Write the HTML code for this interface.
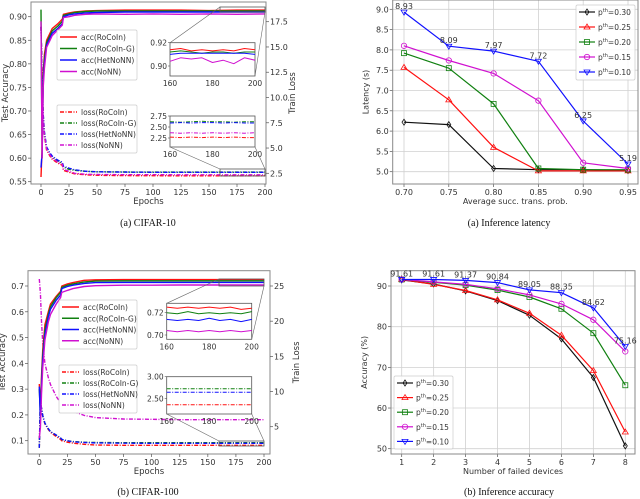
<!DOCTYPE html>
<html><head><meta charset="utf-8"><style>
html,body{margin:0;padding:0;background:#fff;width:640px;height:499px;overflow:hidden}
svg{display:block}
text{font-family:"DejaVu Sans","Liberation Sans",sans-serif;fill:#333}
.cap{font-family:"Liberation Serif",serif;font-size:10px;fill:#111}
</style></head><body>
<svg id="fig" width="640" height="499" viewBox="0 0 640 499"></svg>
<script>
// ---------- data ----------
const epochs = [0,1,2,3,5,8,10,15,19,20,25,30,40,50,75,100,125,150,175,200];
const c10AccRoCoIn  = [0.56,0.62,0.78,0.82,0.85,0.865,0.875,0.885,0.895,0.905,0.908,0.910,0.912,0.913,0.914,0.914,0.914,0.913,0.914,0.914];
const c10AccRoCoInG = [0.915,0.60,0.77,0.81,0.845,0.86,0.87,0.88,0.89,0.903,0.906,0.909,0.911,0.912,0.912,0.912,0.912,0.912,0.912,0.912];
const c10AccHet     = [0.58,0.61,0.76,0.80,0.84,0.855,0.865,0.875,0.885,0.90,0.904,0.906,0.908,0.909,0.910,0.910,0.910,0.910,0.910,0.910];
const c10AccNoNN    = [0.89,0.60,0.75,0.79,0.835,0.85,0.86,0.872,0.882,0.898,0.900,0.903,0.905,0.906,0.905,0.906,0.905,0.906,0.905,0.906];
const c10LossRoCoIn  = [17,12,8,6.2,4.8,4.2,3.9,3.5,3.3,2.8,2.6,2.45,2.35,2.3,2.27,2.26,2.25,2.25,2.25,2.25];
const c10LossRoCoInG = [17,12,8.3,6.5,5,4.4,4.1,3.7,3.5,3.1,2.9,2.8,2.7,2.65,2.63,2.62,2.62,2.62,2.62,2.62];
const c10LossHet     = [17,12,8.4,6.6,5.1,4.5,4.2,3.8,3.6,3.2,3.0,2.85,2.7,2.65,2.62,2.6,2.6,2.6,2.6,2.6];
const c10LossNoNN    = [17,11.5,8,6.3,4.9,4.3,4.0,3.6,3.4,2.9,2.7,2.5,2.4,2.38,2.36,2.36,2.35,2.35,2.35,2.35];
const c100AccRoCoIn  = [0.32,0.22,0.35,0.45,0.55,0.60,0.63,0.66,0.68,0.70,0.708,0.713,0.722,0.724,0.725,0.725,0.725,0.725,0.725,0.725];
const c100AccRoCoInG = [0.30,0.20,0.33,0.43,0.53,0.59,0.62,0.655,0.675,0.695,0.703,0.708,0.716,0.719,0.720,0.720,0.720,0.720,0.720,0.720];
const c100AccHet     = [0.31,0.18,0.31,0.41,0.51,0.58,0.61,0.645,0.665,0.69,0.698,0.703,0.710,0.713,0.714,0.714,0.714,0.714,0.714,0.714];
const c100AccNoNN    = [0.11,0.15,0.28,0.38,0.49,0.56,0.59,0.63,0.655,0.675,0.683,0.690,0.698,0.701,0.703,0.703,0.704,0.704,0.704,0.704];
const c100LossRoCoIn  = [2,9,7.5,6.5,5.4,4.6,4.2,3.6,3.2,3.0,2.8,2.65,2.5,2.4,2.35,2.35,2.35,2.35,2.35,2.35];
const c100LossRoCoInG = [2,9,7.6,6.6,5.5,4.7,4.3,3.8,3.4,3.2,3.0,2.9,2.8,2.75,2.72,2.72,2.72,2.72,2.72,2.72];
const c100LossHet     = [2,9,7.6,6.6,5.5,4.7,4.3,3.8,3.4,3.2,3.0,2.85,2.75,2.7,2.65,2.64,2.64,2.64,2.64,2.64];
const c100LossNoNN    = [26,24,20,17,14,12,11,9.3,8.4,8.0,7.5,7.2,6.6,6.3,6.1,6.05,6.0,6.0,6.0,6.0];
const insetEpochs = [160,165,170,175,180,185,190,195,200];
const in10AccRoCoIn = [0.914,0.915,0.913,0.914,0.913,0.914,0.913,0.915,0.914];
const in10AccG      = [0.912,0.913,0.912,0.911,0.912,0.912,0.911,0.912,0.912];
const in10AccHet    = [0.910,0.911,0.911,0.911,0.911,0.911,0.911,0.911,0.910];
const in10AccNoNN   = [0.904,0.907,0.906,0.907,0.903,0.905,0.902,0.907,0.905];
const in10LossG     = [2.62,2.61,2.62,2.63,2.62,2.62,2.61,2.62,2.62];
const in10LossHet   = [2.59,2.60,2.59,2.60,2.60,2.59,2.60,2.59,2.59];
const in10LossNoNN  = [2.37,2.36,2.37,2.36,2.37,2.36,2.37,2.36,2.37];
const in10LossRo    = [2.27,2.26,2.27,2.26,2.27,2.26,2.27,2.26,2.26];
const in100AccRoCoIn= [0.725,0.724,0.725,0.724,0.725,0.724,0.725,0.723,0.724];
const in100AccG     = [0.720,0.719,0.721,0.719,0.720,0.719,0.720,0.719,0.721];
const in100AccHet   = [0.714,0.713,0.714,0.713,0.715,0.713,0.714,0.712,0.714];
const in100AccNoNN  = [0.704,0.703,0.704,0.703,0.704,0.703,0.704,0.703,0.704];
const in100LossG    = [2.72,2.72,2.72,2.72,2.72,2.72,2.72,2.72,2.72];
const in100LossHet  = [2.64,2.64,2.64,2.64,2.64,2.64,2.64,2.64,2.64];
const in100LossRo   = [2.35,2.35,2.35,2.35,2.35,2.35,2.35,2.35,2.35];
const transProb = [0.70,0.75,0.80,0.85,0.90,0.95];
const lat030 = [6.22,6.16,5.08,5.05,5.05,5.03];
const lat025 = [7.57,6.77,5.60,5.02,5.02,5.02];
const lat020 = [7.92,7.55,6.67,5.08,5.05,5.05];
const lat015 = [8.10,7.74,7.42,6.75,5.22,5.08];
const lat010 = [8.93,8.09,7.97,7.72,6.25,5.19];
const failed = [1,2,3,4,5,6,7,8];
const acc030 = [91.5,90.5,88.8,86.4,82.8,77.0,67.5,50.7];
const acc025 = [91.6,90.4,88.9,86.6,83.3,77.9,69.2,54.1];
const acc020 = [91.6,90.9,90.2,89.0,87.3,84.4,78.4,65.6];
const acc015 = [91.6,91.0,90.4,89.3,87.8,85.6,81.7,73.9];
const acc010 = [91.61,91.61,91.37,90.84,89.05,88.35,84.62,75.16];
const latLabels = ['8.93','8.09','7.97','7.72','6.25','5.19'];
const accLabels = ['91.61','91.61','91.37','90.84','89.05','88.35','84.62','75.16'];

// ---------- helpers ----------
const NS='http://www.w3.org/2000/svg';
const svg=document.getElementById('fig');
function mk(tag,attrs,parent){const e=document.createElementNS(NS,tag);for(const k in attrs)e.setAttribute(k,attrs[k]);(parent||svg).appendChild(e);return e;}
function txt(x,y,s,size,anchor,parent,extra){const t=mk('text',Object.assign({x:x,y:y,'font-size':size,'text-anchor':anchor||'middle'},extra||{}),parent);t.textContent=s;return t;}
function poly(xs,ys,fx,fy,stroke,w,dash,parent){let d='';for(let i=0;i<xs.length;i++){d+=(i?'L':'M')+fx(xs[i]).toFixed(1)+','+fy(ys[i]).toFixed(1);}return mk('path',{d:d,fill:'none',stroke:stroke,'stroke-width':w,'stroke-dasharray':dash||'none','stroke-linejoin':'round'},parent);}
const C={red:'#ff1010',green:'#108010',blue:'#1010ff',mag:'#d010d0',black:'#111'};
const DD='4,1.5,1,1.5';

// ---------- training chart builder ----------
function trainChart(cfg){
  const g=mk('g',{});
  
  
  const {x0,x1,y0,y1,fx,fyL,fyR}=cfg;
  const frame=mk('rect',{x:x0,y:y0,width:x1-x0,height:y1-y0,fill:'none',stroke:'#888','stroke-width':1},g);
  
  
  for(const v of [0,25,50,75,100,125,150,175,200]){mk('line',{x1:fx(v),x2:fx(v),y1:y1,y2:y1+3,stroke:'#555','stroke-width':0.7},g);const t=txt(fx(v),y1+11,String(v),8,'middle',g);}
  for(const v of cfg.lTicks){mk('line',{x1:x0-3,x2:x0,y1:fyL(v),y2:fyL(v),stroke:'#555','stroke-width':0.7},g);const t=txt(x0-4,fyL(v)+3,v.toFixed(cfg.lDec),8,'end',g);}
  for(const v of cfg.rTicks){mk('line',{x1:x1,x2:x1+3,y1:fyR(v),y2:fyR(v),stroke:'#555','stroke-width':0.7},g);const t=txt(x1+4,fyR(v)+3,v.toFixed(cfg.rDec),8,'start',g);}
  const xt=txt((x0+x1)/2,y1+20,'Epochs',8.5,'middle',g);
  const yt=txt(0,0,'Test Accuracy',8.5,'middle',g,{transform:`translate(${x0-23},${(y0+y1)/2}) rotate(-90)`});
  const y2=txt(0,0,'Train Loss',8.5,'middle',g,{transform:`translate(${x1+29},${(y0+y1)/2}) rotate(-90)`});
  const cols=[C.red,C.green,C.blue,C.mag];
  cfg.loss.forEach((s,i)=>{const p=poly(epochs,s,fx,fyR,cols[i],1.4,DD,g);});
  cfg.acc.forEach((s,i)=>{const p=poly(epochs,s,fx,fyL,cols[i],1.4,null,g);});
  const names=['RoCoIn','RoCoIn-G','HetNoNN','NoNN'];
  [['acc',cfg.accLeg,null],['loss',cfg.lossLeg,DD]].forEach(([pre,b,dash])=>{
    const lg=mk('g',{},g);
    mk('rect',{x:b[0],y:b[1],width:b[2],height:b[3],fill:'#fff',stroke:'#ccc','stroke-width':0.7,rx:1.5},lg);
    names.forEach((n,i)=>{const yy=b[1]+7+i*(b[3]-4)/4;mk('line',{x1:b[0]+3,x2:b[0]+20,y1:yy,y2:yy,stroke:cols[i],'stroke-width':1.5,'stroke-dasharray':dash||'none'},lg);const t=txt(b[0]+24,yy+3,pre+'('+n+')',7.5,'start',lg);});
  });
  cfg.insets.forEach(ins=>{
    const ig=mk('g',{},g);
    mk('rect',{x:ins.box[0],y:ins.box[1],width:ins.box[2]-ins.box[0],height:ins.box[3]-ins.box[1],fill:'#fff',stroke:'#555','stroke-width':0.8},ig);
    const ix=e=>ins.box[0]+(e-160)/40*(ins.box[2]-ins.box[0]);
    const iy=v=>ins.yA+(ins.vA-v)*(ins.yB-ins.yA)/(ins.vA-ins.vB);
    ins.series.forEach(s=>{const p=poly(insetEpochs,s[0],ix,iy,s[1],1,s[2]?DD:null,ig);});
    ins.ticks.forEach(v=>{mk('line',{x1:ins.box[0]-2,x2:ins.box[0],y1:iy(v),y2:iy(v),stroke:'#555','stroke-width':0.6},ig);txt(ins.box[0]-3,iy(v)+3,v.toFixed(2),7.5,'end',ig);});
    [160,180,200].forEach(v=>txt(ix(v),ins.box[3]+10,String(v),7.5,'middle',ig));
    const sr=ins.src;
    mk('rect',{x:sr[0],y:sr[1],width:sr[2]-sr[0],height:sr[3]-sr[1],fill:'none',stroke:'#555','stroke-width':0.8},ig);
    mk('line',{x1:ins.c[0][0],y1:ins.c[0][1],x2:ins.c[0][2],y2:ins.c[0][3],stroke:'#666','stroke-width':0.6},ig);
    mk('line',{x1:ins.c[1][0],y1:ins.c[1][1],x2:ins.c[1][2],y2:ins.c[1][3],stroke:'#666','stroke-width':0.6},ig);
  });
  const cap=txt(cfg.capX,cfg.capY,cfg.cap,10,'middle',svg,{class:'cap'});
  
  
}

const fxA=e=>41+e*224/200, fyLA=v=>16.7+(0.90-v)*165/0.35, fyRA=v=>21.7+(17.5-v)*151.6/15;
trainChart({name:'cifar10-training-chart',x0:31,x1:266,y0:2,y1:184,fx:fxA,fyL:fyLA,fyR:fyRA,
  lTicks:[0.55,0.60,0.65,0.70,0.75,0.80,0.85,0.90],lDec:2,rTicks:[2.5,5,7.5,10,12.5,15,17.5],rDec:1,
  acc:[c10AccRoCoIn,c10AccRoCoInG,c10AccHet,c10AccNoNN],loss:[c10LossRoCoIn,c10LossRoCoInG,c10LossHet,c10LossNoNN],
  accLeg:[57,30,80,50],lossLeg:[57,105,80,48],
  insets:[
    {box:[170,42.7,255,76],yA:42.7,vA:0.92,yB:66,vB:0.90,ticks:[0.90,0.92],src:[220,7,265,12],c:[[170,42.7,220,7],[255,76,265,12]],
     series:[[in10AccRoCoIn,C.red],[in10AccG,C.green],[in10AccHet,C.blue],[in10AccNoNN,C.mag]]},
    {box:[170,116,255,147],yA:116,vA:2.75,yB:138,vB:2.25,ticks:[2.25,2.50,2.75],src:[220,169,265,176],c:[[170,147,220,169],[255,147,265,169]],
     series:[[in10LossG,C.green,1],[in10LossHet,C.blue,1],[in10LossNoNN,C.mag,1],[in10LossRo,C.red,1]]}
  ],cap:'(a)  CIFAR-10',capX:148,capY:226});

const fxB=e=>39.3+e*224.7/200, fyLB=v=>286+(0.7-v)*154.7/0.6, fyRB=v=>286+(25-v)*140.7/20;
trainChart({name:'cifar100-training-chart',x0:28,x1:270,y0:270.7,y1:454,fx:fxB,fyL:fyLB,fyR:fyRB,
  lTicks:[0.1,0.2,0.3,0.4,0.5,0.6,0.7],lDec:1,rTicks:[5,10,15,20,25],rDec:0,
  acc:[c100AccRoCoIn,c100AccRoCoInG,c100AccHet,c100AccNoNN],loss:[c100LossRoCoIn,c100LossRoCoInG,c100LossHet,c100LossNoNN],
  accLeg:[59,300,78,49],lossLeg:[59,365,78,48],
  insets:[
    {box:[166.7,303.3,251.7,339.3],yA:312.7,vA:0.72,yB:335,vB:0.70,ticks:[0.70,0.72],src:[219,279,264,286],c:[[166.7,303.3,219,279],[251.7,339.3,264,286]],
     series:[[in100AccRoCoIn,C.red],[in100AccG,C.green],[in100AccHet,C.blue],[in100AccNoNN,C.mag]]},
    {box:[166.7,376.7,251.7,414],yA:376.7,vA:3.0,yB:398.3,vB:2.5,ticks:[2.5,3.0],src:[219,441,264,446],c:[[166.7,414,219,441],[251.7,414,264,441]],
     series:[[in100LossG,C.green,1],[in100LossHet,C.blue,1],[in100LossRo,C.red,1]]}
  ],cap:'(b)  CIFAR-100',capX:148,capY:495});

function markChart(cfg){
  const g=mk('g',{});
  
  
  const {x0,x1,y0,y1,fx,fy}=cfg;
  cfg.xs.forEach(v=>{mk('line',{x1:fx(v),x2:fx(v),y1:y0,y2:y1,stroke:'#d0d0d0','stroke-width':0.8},g);mk('line',{x1:fx(v),x2:fx(v),y1:y1,y2:y1+3,stroke:'#555','stroke-width':0.7},g);const t=txt(fx(v),y1+11,cfg.xFmt(v),8,'middle',g);});
  cfg.yTicks.forEach(v=>{mk('line',{x1:x0,x2:x1,y1:fy(v),y2:fy(v),stroke:'#d0d0d0','stroke-width':0.8},g);mk('line',{x1:x0-3,x2:x0,y1:fy(v),y2:fy(v),stroke:'#555','stroke-width':0.7},g);const t=txt(x0-4,fy(v)+3,cfg.yFmt(v),8,'end',g);});
  const fr=mk('rect',{x:x0,y:y0,width:x1-x0,height:y1-y0,fill:'none',stroke:'#888','stroke-width':1},g);
  
  
  const xt=txt((x0+x1)/2,y1+20,cfg.xTitle,8,'middle',g);
  const yt=txt(0,0,cfg.yTitle,8,'middle',g,{transform:`translate(${x0-24},${(y0+y1)/2}) rotate(-90)`});
  const markers=['diamond','tri','square','circle','tridown'];
  const cols=[C.black,C.red,C.green,C.mag,C.blue];
  function marker(x,y,m,col,par){
    if(m==='diamond')return mk('path',{d:`M${x},${y-3}L${x+2},${y}L${x},${y+3}L${x-2},${y}Z`,fill:'none',stroke:col,'stroke-width':0.8},par);
    if(m==='tri')return mk('path',{d:`M${x},${y-3}L${x+3},${y+2}L${x-3},${y+2}Z`,fill:'none',stroke:col,'stroke-width':0.8},par);
    if(m==='square')return mk('rect',{x:x-2.5,y:y-2.5,width:5,height:5,fill:'none',stroke:col,'stroke-width':0.8},par);
    if(m==='circle')return mk('circle',{cx:x,cy:y,r:2.7,fill:'none',stroke:col,'stroke-width':0.8},par);
    return mk('path',{d:`M${x},${y+3}L${x+3},${y-2}L${x-3},${y-2}Z`,fill:'none',stroke:col,'stroke-width':0.8},par);
  }
  cfg.series.forEach((s,i)=>{
    const sg=mk('g',{},g);
    poly(cfg.xs,s,fx,fy,cols[i],1.2,null,sg);
    cfg.xs.forEach((v,j)=>{const m=marker(fx(v),fy(s[j]),markers[i],cols[i],sg);});
  });
  cfg.labels.forEach((l,j)=>{const t=txt(fx(cfg.xs[j]),fy(cfg.series[4][j])-3,l,8,'middle',g,{fill:'#222'});});
  const lb=cfg.legBox;
  const lg=mk('g',{},g);
  mk('rect',{x:lb[0],y:lb[1],width:lb[2],height:lb[3],fill:'#fff','fill-opacity':0.85,stroke:'#ccc','stroke-width':0.7,rx:1.5},lg);
  cfg.leg.forEach((n,i)=>{const yy=lb[1]+7+i*lb[3]/5;mk('line',{x1:lb[0]+3,x2:lb[0]+19,y1:yy,y2:yy,stroke:cols[i],'stroke-width':1.2},lg);marker(lb[0]+11,yy,markers[i],cols[i],lg);
    const t=mk('text',{x:lb[0]+22,y:yy+3,'font-size':7.5,'text-anchor':'start'},lg);
    t.textContent='p';const s=mk('tspan',{'font-size':5,dy:-3},t);s.textContent='th';const r=mk('tspan',{dy:3},t);r.textContent='=0.'+n;});
  const cap=txt(cfg.capX,cfg.capY,cfg.cap,10,'middle',svg,{class:'cap'});
  
  
}
markChart({name:'latency-chart',x0:392.7,x1:638,y0:0,y1:184,
  fx:p=>404+(p-0.7)*224/0.25,fy:v=>9.3+(9-v)*162.4/4,xs:transProb,xFmt:v=>v.toFixed(2),
  yTicks:[5.0,5.5,6.0,6.5,7.0,7.5,8.0,8.5,9.0],yFmt:v=>v.toFixed(1),
  series:[lat030,lat025,lat020,lat015,lat010],labels:latLabels,leg:['30','25','20','15','10'],
  legBox:[576,5,59,75],xTitle:'Average succ. trans. prob.',yTitle:'Latency (s)',
  cap:'(a)  Inference latency',capX:509,capY:226});
markChart({name:'accuracy-chart',x0:391,x1:635,y0:270.7,y1:454,
  fx:n=>401.7+(n-1)*223.6/7,fy:v=>286+(90-v)*162.7/40,xs:failed,xFmt:v=>String(v),
  yTicks:[50,60,70,80,90],yFmt:v=>String(v),
  series:[acc030,acc025,acc020,acc015,acc010],labels:accLabels,leg:['30','25','20','15','10'],
  legBox:[394,376,59,73],xTitle:'Number of failed devices',yTitle:'Accuracy (%)',
  cap:'(b)  Inference accuracy',capX:509,capY:495});
</script>
</body></html>
